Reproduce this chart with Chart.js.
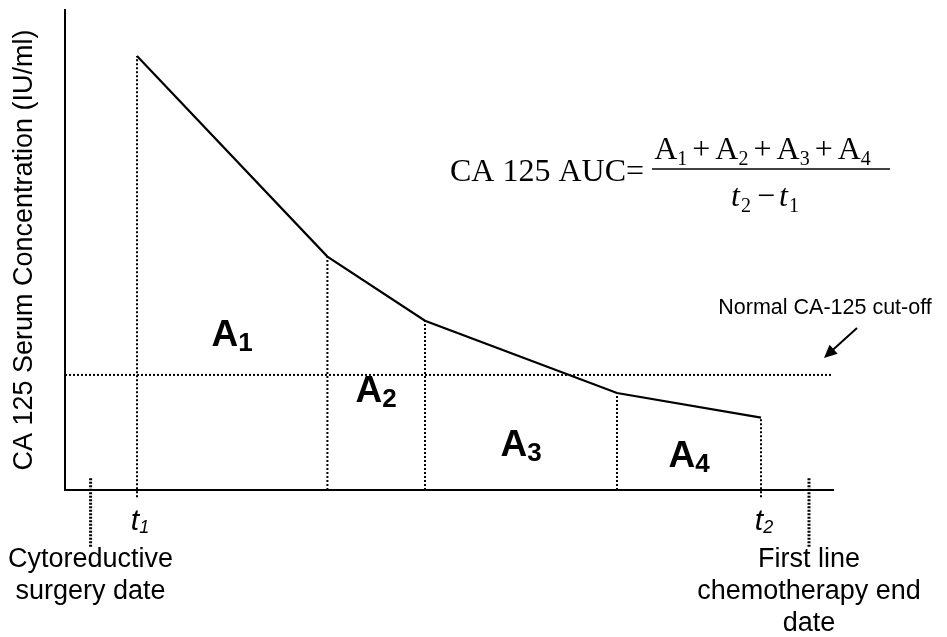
<!DOCTYPE html>
<html>
<head>
<meta charset="utf-8">
<script src="https://cdn.jsdelivr.net/npm/chart.js@4.4.0/dist/chart.umd.min.js"></script>
<style>
  html, body { margin: 0; padding: 0; background: #fff; }
  #wrap { width: 947px; height: 637px; }
</style>
</head>
<body>
<div id="wrap"><canvas id="auc"></canvas></div>
<script>
// sampling times (weeks after surgery) and CA 125 values (IU/ml)
const sampleTimes = [2.25, 8.2, 11.25, 17.25, 21.75];
const ca125Values = [132, 71, 51.5, 29.5, 22];
const cutoffValue = 35;
const surgeryTime = 0.8;
const chemoEndTime = 23.25;
const areaNames = ['1', '2', '3', '4'];
const timeNames = ['1', '2'];
const yTitle = 'CA 125 Serum Concentration (IU/ml)';
const surgeryText = ['Cytoreductive', 'surgery date'];
const chemoText = ['First line', 'chemotherapy end', 'date'];
const cutoffText = 'Normal CA-125 cut-off';

const SANS = '"Liberation Sans", Arial, sans-serif';
const SERIF = '"Liberation Serif", "Times New Roman", serif';

const dotted = {
    borderColor: '#000',
    borderWidth: 2,
    borderDash: [2, 2],
    pointRadius: 0,
    showLine: true,
    clip: false
};

const datasets = [];
datasets.push({
    data: sampleTimes.map((t, i) => ({ x: t, y: ca125Values[i] })),
    borderColor: '#000',
    borderWidth: 2.2,
    pointRadius: 0,
    showLine: true
});
datasets.push({ ...dotted, data: [{ x: 0, y: cutoffValue }, { x: 24, y: cutoffValue }] });
sampleTimes.forEach((t, i) => {
    // first and last drop a little below the axis
    const end = (i === 0 || i === sampleTimes.length - 1) ? -2.2 : 0;
    datasets.push({ ...dotted, data: [{ x: t, y: end }, { x: t, y: ca125Values[i] }] });
});
[surgeryTime, chemoEndTime].forEach(t => {
    datasets.push({ ...dotted, borderWidth: 3, borderDash: [2, 1.5], data: [{ x: t, y: 3.6 }, { x: t, y: -17.3 }] });
});

function withSub(ctx, main, sub, cx, base, font, subFont, drop) {
    ctx.font = font;
    const w1 = ctx.measureText(main).width;
    ctx.font = subFont;
    const w2 = ctx.measureText(sub).width;
    const left = cx - (w1 + w2) / 2;
    ctx.textAlign = 'left';
    ctx.font = font;
    ctx.fillText(main, left, base);
    ctx.font = subFont;
    ctx.fillText(sub, left + w1, base + drop);
}

function drawRun(ctx, tokens, cx, base) {
    let total = 0;
    tokens.forEach(t => {
        ctx.font = t.font;
        t.w = ctx.measureText(t.s).width;
        total += t.w + (t.gap || 0);
    });
    let px = cx - total / 2;
    ctx.textAlign = 'left';
    tokens.forEach(t => {
        ctx.font = t.font;
        ctx.fillText(t.s, px, base + (t.dy || 0));
        px += t.w + (t.gap || 0);
    });
}

const annotate = {
    id: 'annotate',
    afterDraw(chart) {
        const { ctx, scales: { x, y } } = chart;
        const W = chart.width;
        ctx.save();
        ctx.fillStyle = '#000';
        ctx.strokeStyle = '#000';
        ctx.textBaseline = 'alphabetic';

        // A1..A4 between the sampling times
        const areaBase = [346, 402, 456, 467];
        areaNames.forEach((n, i) => {
            const cx = (x.getPixelForValue(sampleTimes[i]) + x.getPixelForValue(sampleTimes[i + 1])) / 2;
            withSub(ctx, 'A', n, cx, areaBase[i], 'bold 37px ' + SANS, 'bold 26px ' + SANS, 5);
        });

        // t1 and t2
        [sampleTimes[0], sampleTimes[sampleTimes.length - 1]].forEach((t, i) => {
            withSub(ctx, 't', timeNames[i], x.getPixelForValue(t) + 3, 530, 'italic 30px ' + SANS, 'italic 18px ' + SANS, 3);
        });

        // event labels under the markers
        ctx.font = '27px ' + SANS;
        ctx.textAlign = 'center';
        [[surgeryTime, surgeryText], [chemoEndTime, chemoText]].forEach(([t, lines]) => {
            const half = Math.max(...lines.map(s => ctx.measureText(s).width)) / 2;
            let cx = x.getPixelForValue(t);
            cx = Math.min(Math.max(cx, 4 + half), W - 8 - half);
            lines.forEach((s, k) => ctx.fillText(s, cx, 567 + k * 32));
        });

        // cut-off note and arrow
        const cy = y.getPixelForValue(cutoffValue);
        const tipX = x.right - 9, tipY = cy - 17;
        ctx.font = '21.5px ' + SANS;
        ctx.fillText(cutoffText, 825, cy - 61);
        const sx = tipX + 33, sy = tipY - 30;
        const ang = Math.atan2(tipY - sy, tipX - sx);
        ctx.lineWidth = 2;
        ctx.beginPath();
        ctx.moveTo(sx, sy);
        ctx.lineTo(tipX - 8 * Math.cos(ang), tipY - 8 * Math.sin(ang));
        ctx.stroke();
        ctx.beginPath();
        ctx.moveTo(tipX, tipY);
        ctx.lineTo(tipX - 13 * Math.cos(ang) + 6 * Math.sin(ang), tipY - 13 * Math.sin(ang) - 6 * Math.cos(ang));
        ctx.lineTo(tipX - 13 * Math.cos(ang) - 6 * Math.sin(ang), tipY - 13 * Math.sin(ang) + 6 * Math.cos(ang));
        ctx.closePath();
        ctx.fill();

        // AUC formula
        const F = '32px ' + SERIF, FI = 'italic 32px ' + SERIF, FS = '20px ' + SERIF;
        ctx.font = F;
        ctx.textAlign = 'left';
        ctx.fillText('CA 125 AUC=', 450, 181);
        ctx.lineWidth = 1.5;
        ctx.beginPath();
        ctx.moveTo(652, 169);
        ctx.lineTo(890, 169);
        ctx.stroke();
        const num = [];
        areaNames.forEach((n, i) => {
            num.push({ s: 'A', font: F });
            num.push({ s: n, font: FS, dy: 6, gap: 5 });
            if (i < areaNames.length - 1) num.push({ s: '+', font: F, gap: 5 });
        });
        drawRun(ctx, num, 765, 159);
        drawRun(ctx, [
            { s: 't', font: FI, gap: 1 },
            { s: timeNames[1], font: FS, dy: 6, gap: 6 },
            { s: '\u2212', font: F, gap: 4 },
            { s: 't', font: FI, gap: 1 },
            { s: timeNames[0], font: FS, dy: 6 }
        ], 765, 206);
        ctx.restore();
    }
};

const ctx = document.getElementById('auc');
const aucChart = new Chart(ctx, {
    type: 'scatter',
    data: { datasets: datasets },
    options: {
        responsive: true,
        maintainAspectRatio: false,
        animation: false,
        layout: { padding: { left: 0, right: 114, top: 10, bottom: 147 } },
        plugins: { legend: { display: false }, tooltip: { enabled: false } },
        scales: {
            x: {
                type: 'linear',
                min: 0,
                max: 24,
                grid: { display: false, drawTicks: false },
                border: { display: true, color: '#000', width: 2 },
                ticks: { display: false }
            },
            y: {
                min: 0,
                max: 146,
                grid: { display: false, drawTicks: false },
                border: { display: true, color: '#000', width: 2 },
                ticks: { display: false },
                title: {
                    display: true,
                    text: yTitle,
                    color: '#000',
                    font: { family: SANS, size: 27 },
                    padding: { top: 8, bottom: 24.6 }
                }
            }
        }
    },
    plugins: [annotate]
});
</script>
</body>
</html>
